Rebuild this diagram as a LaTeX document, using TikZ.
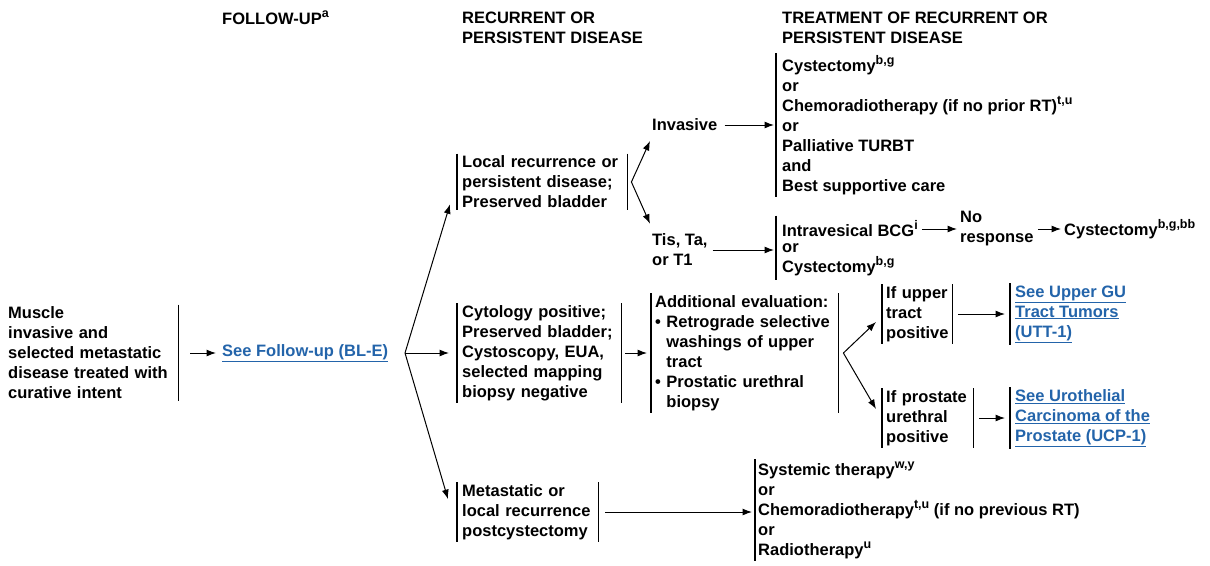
\documentclass[tikz,border=0pt]{standalone}
\usepackage{fontspec}
\setmainfont{Liberation Sans}
\usetikzlibrary{arrows.meta}
\definecolor{linkblue}{RGB}{35,100,170}
\newcommand{\sps}[1]{\raisebox{0.42em}{\fontsize{12.5}{13}\selectfont\bfseries #1}}
\newcommand{\ul}[1]{\underline{#1}}
\begin{document}
\begin{tikzpicture}[x=1pt,y=-1pt,
  every node/.style={font=\fontsize{16.5}{20}\selectfont\bfseries, inner sep=0pt, align=left, anchor=west},
  bx/.style={inner xsep=5pt, inner ysep=2pt},
  arr/.style={-{Latex[length=9.5pt,width=7pt]}, line width=1pt},
  bar/.style={line width=1.2pt},
  lnk/.style={text=linkblue}
]
\useasboundingbox (0,0) rectangle (1210,565);

% headers
\node (h1) at (222,18) {FOLLOW-UP\sps{a}};
\node (h2) at (462,28) {RECURRENT OR\\PERSISTENT DISEASE};
\node (h3) at (782,28) {TREATMENT OF RECURRENT OR\\PERSISTENT DISEASE};

% column 1
\node[bx, inner xsep=3pt, text width=167pt] (start) at (5,353) {Muscle\\invasive and\\selected metastatic\\disease treated with\\curative intent};
\draw[bar] (start.north east) -- (start.south east);
\node[lnk] (fu) at (222,353) {\ul{See Follow-up (BL-E)}};
\coordinate (b1) at (405,353);

% column 2
\node[bx, text width=160pt] (local) at (457,182) {Local recurrence or\\persistent disease;\\Preserved bladder};
\draw[bar] (local.north west) -- (local.south west);
\draw[bar] (local.north east) -- (local.south east);
\node[bx, text width=154pt] (cyto) at (457,353) {Cytology positive;\\Preserved bladder;\\Cystoscopy, EUA,\\selected mapping\\biopsy negative};
\draw[bar] (cyto.north west) -- (cyto.south west);
\draw[bar] (cyto.north east) -- (cyto.south east);
\node[bx, text width=131pt] (meta) at (457,512) {Metastatic or\\local recurrence\\postcystectomy};
\draw[bar] (meta.north west) -- (meta.south west);
\draw[bar] (meta.north east) -- (meta.south east);

% local recurrence branch
\node (inv) at (652,125) {Invasive};
\node (tis) at (652,250) {Tis, Ta,\\or T1};
\coordinate (b2) at ([xshift=4pt]local.east);
\node[bx, inner xsep=6pt] (invtr) at (776,125) {Cystectomy\sps{b,g}\\or\\Chemoradiotherapy (if no prior RT)\sps{t,u}\\or\\Palliative TURBT\\and\\Best supportive care};
\draw[bar] (invtr.north west) -- (invtr.south west);
\node (bcg) at (782,229) {Intravesical BCG\sps{i}};
\node (tisor) at (782,260) {or\\Cystectomy\sps{b,g}};
\draw[bar] ([xshift=-6pt,yshift=5pt]bcg.north west) -- ([xshift=-6pt,yshift=-4pt]tisor.south west);
\node (nr) at (960,229) {No\\response};
\node (cy3) at (1064,229) {Cystectomy\sps{b,g,bb}};

% cytology branch
\node[bx, inner xsep=4pt, text width=179pt] (addl) at (651,353) {Additional evaluation:\\\textbullet\ Retrograde selective\\\phantom{\textbullet\ }washings of upper\\\phantom{\textbullet\ }tract\\\textbullet\ Prostatic urethral\\\phantom{\textbullet\ }biopsy};
\draw[bar] (addl.north west) -- (addl.south west);
\draw[bar] (addl.north east) -- (addl.south east);
\coordinate (b3) at ([xshift=5pt]addl.east);
\node[bx, inner xsep=4pt, text width=62pt] (upper) at (882,314) {If upper\\tract\\positive};
\draw[bar] (upper.north west) -- (upper.south west);
\draw[bar] (upper.north east) -- (upper.south east);
\node[bx, inner xsep=4pt, text width=83pt] (prost) at (882,418) {If prostate\\urethral\\positive};
\draw[bar] (prost.north west) -- (prost.south west);
\draw[bar] (prost.north east) -- (prost.south east);
\node[bx, lnk] (ugu) at (1010,314) {\ul{See Upper GU}\\\ul{Tract Tumors}\\\ul{(UTT-1)}};
\draw[bar] (ugu.north west) -- (ugu.south west);
\node[bx, lnk] (ucp) at (1010,418) {\ul{See Urothelial}\\\ul{Carcinoma of the}\\\ul{Prostate (UCP-1)}};
\draw[bar] (ucp.north west) -- (ucp.south west);

% metastatic branch
\node[bx, inner xsep=3pt] (sys) at (755,510) {Systemic therapy\sps{w,y}\\or\\Chemoradiotherapy\sps{t,u} (if no previous RT)\\or\\Radiotherapy\sps{u}};
\draw[bar] (sys.north west) -- (sys.south west);

% connectors
\draw[arr, shorten <=12pt, shorten >=6pt] (start.east) -- (fu.west);
\draw[arr] (b1) -- ([xshift=-7pt,yshift=6pt]local.south west);
\draw[arr] (b1) -- ([xshift=-8pt]cyto.west);
\draw[arr] (b1) -- ([xshift=-9pt,yshift=-17pt]meta.north west);
\draw[arr] (b2) -- ([xshift=-2pt,yshift=-16pt]inv.west);
\draw[arr] (b2) -- ([xshift=-2pt,yshift=10pt]tis.north west);
\draw[arr, shorten <=7pt, shorten >=2pt] (inv.east) -- (invtr.west);
\draw[arr, shorten <=5pt, shorten >=2pt] (tis.east) -- (tis.east -| invtr.west);
\draw[arr, shorten <=4pt, shorten >=3pt] (bcg.east) -- (bcg.east -| nr.west);
\draw[arr, shorten <=4pt, shorten >=3pt] (nr.east) -- (cy3.west);
\draw[arr, shorten <=4pt, shorten >=4pt] (cyto.east) -- (addl.west);
\draw[arr] (b3) -- ([xshift=-6pt,yshift=-8pt]upper.west);
\draw[arr] (b3) -- ([xshift=-6pt,yshift=9pt]prost.west);
\draw[arr, shorten <=6pt, shorten >=5pt] (upper.east) -- (ugu.west);
\draw[arr, shorten <=6pt, shorten >=5pt] (prost.east) -- (ucp.west);
\draw[arr, shorten <=7pt, shorten >=3pt] (meta.east) -- (meta.east -| sys.west);
\end{tikzpicture}
\end{document}
